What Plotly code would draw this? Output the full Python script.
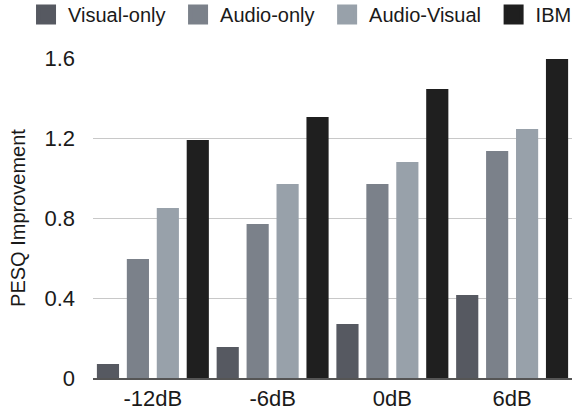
import plotly.graph_objects as go

categories = ["-12dB", "-6dB", "0dB", "6dB"]
series_names = ["Visual-only", "Audio-only", "Audio-Visual", "IBM"]
visual_only = [0.07, 0.155, 0.27, 0.415]
audio_only = [0.595, 0.77, 0.97, 1.135]
audio_visual = [0.85, 0.97, 1.08, 1.245]
ibm = [1.19, 1.305, 1.445, 1.595]
colors = ["#565961", "#7b818a", "#98a1aa", "#1f1f1f"]
y_ticks = [0, 0.4, 0.8, 1.2, 1.6]
y_tick_labels = ["0", "0.4", "0.8", "1.2", "1.6"]

fig = go.Figure()
for name, vals, col in zip(series_names, [visual_only, audio_only, audio_visual, ibm], colors):
    fig.add_trace(go.Bar(x=categories, y=vals, name=name, marker_color=col,
                         marker_line_width=0, showlegend=False, legendgroup=name))
for name, col in zip(series_names, colors):
    fig.add_trace(go.Scatter(x=[None], y=[None], mode="markers", name=name + "\u00a0",
                             marker=dict(symbol="square", size=16, color=col,
                                         line=dict(color=col, width=4)),
                             legendgroup=name))

font = "Liberation Sans, Arial, Helvetica, sans-serif"
fig.update_layout(
    width=587, height=417,
    margin=dict(l=93, r=15, t=58, b=39, autoexpand=False),
    paper_bgcolor="white", plot_bgcolor="white",
    barmode="group", bargap=0.0, bargroupgap=0.26,
    font=dict(family=font, size=20, color="#1a1a1a"),
    legend=dict(orientation="h", x=-0.144, xanchor="left", y=1.136, yanchor="middle",
                font=dict(size=20), bgcolor="rgba(0,0,0,0)", itemsizing="trace",
                itemwidth=34),
    xaxis=dict(showgrid=False, showline=True, linecolor="#555555", linewidth=1.5,
               ticks="", tickfont=dict(size=22)),
    yaxis=dict(range=[0, 1.6], tickvals=y_ticks, ticktext=y_tick_labels,
               showgrid=True, gridcolor="#c8c8c8", gridwidth=1, zeroline=False,
               showline=False, ticks="", tickfont=dict(size=22),
               ticklabelstandoff=17,
               title=dict(text="PESQ Improvement", font=dict(size=20), standoff=13)),
)
fig.write_html("out.html", config={"displayModeBar": False},
               post_script="document.body.style.margin='0';")
